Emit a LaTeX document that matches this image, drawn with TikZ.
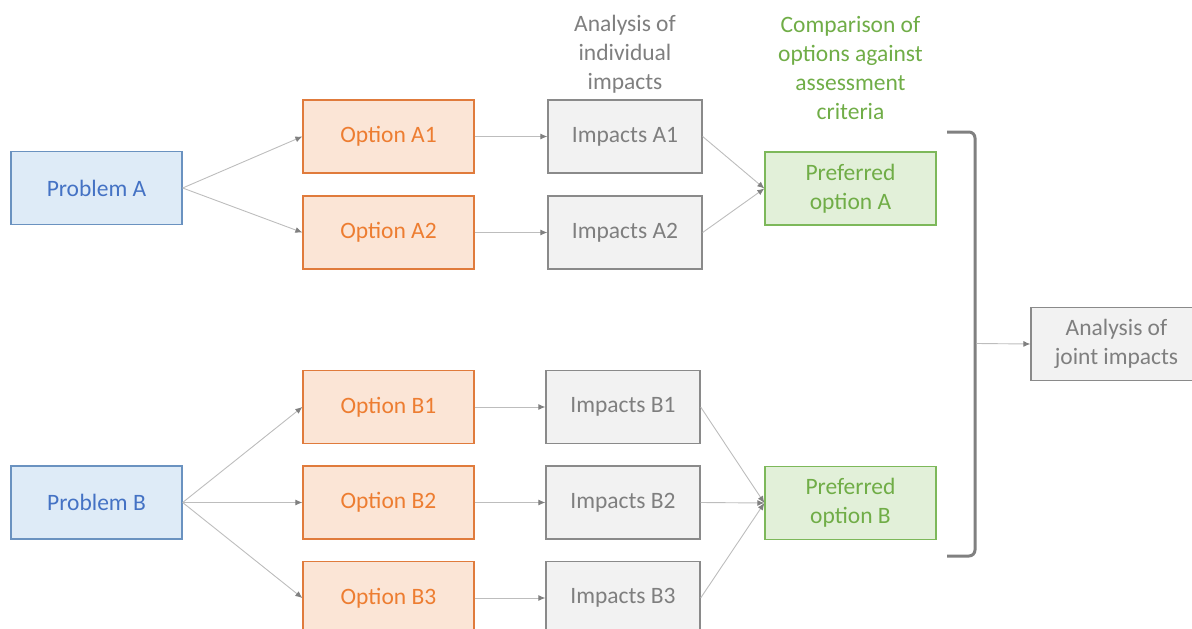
\documentclass[tikz,border=0pt]{standalone}
\usepackage{fontspec}
\setmainfont{Carlito}
\usepackage{tikz}
\usetikzlibrary{arrows.meta}
\definecolor{probfill}{HTML}{DEEBF7}
\definecolor{probdraw}{HTML}{6A92C0}
\definecolor{probtext}{HTML}{4472C4}
\definecolor{optfill}{HTML}{FBE5D6}
\definecolor{optdraw}{HTML}{E07B3C}
\definecolor{opttext}{HTML}{ED7D31}
\definecolor{impfill}{HTML}{F2F2F2}
\definecolor{impdraw}{HTML}{8A8A8A}
\definecolor{imptext}{HTML}{7F7F7F}
\definecolor{preffill}{HTML}{E2F0D9}
\definecolor{prefdraw}{HTML}{7DB85A}
\definecolor{preftext}{HTML}{70AD47}
\definecolor{linegray}{HTML}{BDBDBD}
\definecolor{tipgray}{HTML}{808080}
\tikzstyle{flow}=[-{Latex[length=7pt,width=6pt,color=tipgray]},draw=linegray,line width=0.9pt]
\tikzstyle{box}=[rectangle,line width=1.3pt,inner sep=0pt,minimum height=73pt,align=center,font=\fontsize{23.5}{29}\selectfont]
\tikzstyle{prob}=[box,draw=probdraw,fill=probfill,text=probtext,minimum width=171pt]
\tikzstyle{opt}=[box,draw=optdraw,fill=optfill,text=opttext,minimum width=171pt]
\tikzstyle{imp}=[box,draw=impdraw,fill=impfill,text=imptext,minimum width=154pt]
\tikzstyle{pref}=[box,draw=prefdraw,fill=preffill,text=preftext,minimum width=171pt]
\tikzstyle{head}=[inner sep=0pt,align=center,font=\fontsize{23.5}{29}\selectfont]
\tikzstyle{bracket}=[-,draw=tipgray,line width=3pt,rounded corners=6pt]

\begin{document}
\begin{tikzpicture}[x=1pt,y=-1pt]
				\useasboundingbox (0,0) rectangle (1192,629);

				%The problems
				\node[prob] (pa) at (96.5,188) {Problem A};
				\node[prob] (pb) at (96.5,502.5) {Problem B};

				%The options
				\node[opt] (oa1) at (388.5,136.5) {Option A1};
				\node[opt] (oa2) at (388.5,232.5) {Option A2};
				\node[opt] (ob1) at (388.5,407) {Option B1};
				\node[opt] (ob2) at (388.5,502.5) {Option B2};
				\node[opt] (ob3) at (388.5,598) {Option B3};

				%The impacts
				\node[imp] (ia1) at (625,136.5) {Impacts A1};
				\node[imp] (ia2) at (625,232.5) {Impacts A2};
				\node[imp] (ib1) at (623,407) {Impacts B1};
				\node[imp] (ib2) at (623,502.5) {Impacts B2};
				\node[imp] (ib3) at (623,598) {Impacts B3};

				%The preferred options
				\node[pref] (qa) at (850.5,188.5) {Preferred\\option A};
				\node[pref] (qb) at (850.5,503) {Preferred\\option B};

				%The joint analysis
				\node[imp,minimum width=171pt] (joint) at (1116.5,344) {Analysis of\\joint impacts};

				%The column headings
				\node[head,text=imptext] (h1) at (625,54.5) {Analysis of\\individual\\impacts};
				\node[head,text=preftext] (h2) at (850.5,68) {Comparison of\\options against\\assessment\\criteria};

				%The arrows
				\draw[flow] (pa.east) -- (oa1.west);
				\draw[flow] (pa.east) -- (oa2.west);
				\draw[flow] (pb.east) -- (ob1.west);
				\draw[flow] (pb.east) -- (ob2.west);
				\draw[flow] (pb.east) -- (ob3.west);
				\draw[flow] (oa1) -- (ia1);
				\draw[flow] (oa2) -- (ia2);
				\draw[flow] (ob1) -- (ib1);
				\draw[flow] (ob2) -- (ib2);
				\draw[flow] (ob3) -- (ib3);
				\draw[flow] (ia1.east) -- (qa.west);
				\draw[flow] (ia2.east) -- (qa.west);
				\draw[flow] (ib1.east) -- (qb.west);
				\draw[flow] (ib2.east) -- (qb.west);
				\draw[flow] (ib3.east) -- (qb.west);

				%The bracket
				\draw[bracket] (947,132) -- (975,132) -- (975,556) -- (947,556);
				\coordinate (br) at (976.5,343.5);
				\draw[flow] (br) -- (joint.west);
			\end{tikzpicture}
\end{document}
